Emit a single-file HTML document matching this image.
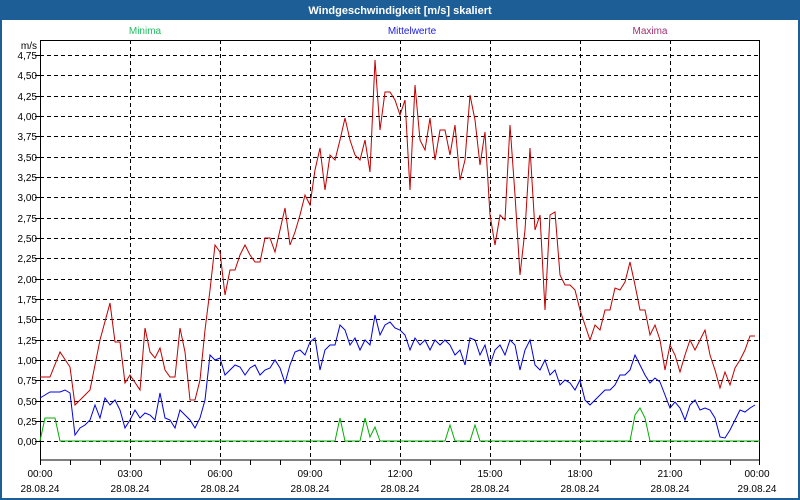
<!DOCTYPE html>
<html><head><meta charset="utf-8"><style>
html,body{margin:0;padding:0;background:#fff}
svg{display:block;font-family:"Liberation Sans",sans-serif}
</style></head><body>
<svg width="800" height="500" xmlns="http://www.w3.org/2000/svg">
<rect x="0" y="0" width="800" height="500" fill="#1e5e96"/>
<rect x="2" y="20" width="796" height="478" fill="#fff"/>
<text x="400" y="14" fill="#fff" font-size="11" font-weight="bold" text-anchor="middle">Windgeschwindigkeit [m/s] skaliert</text>
<text x="145" y="34" fill="#20c060" font-size="10" text-anchor="middle">Minima</text>
<text x="412" y="34" fill="#2020e0" font-size="10" text-anchor="middle">Mittelwerte</text>
<text x="650" y="34" fill="#a03070" font-size="10" text-anchor="middle">Maxima</text>
<text x="37" y="49" font-size="10" text-anchor="end">m/s</text>
<g stroke="#000" stroke-width="1" stroke-dasharray="4,3" fill="none" shape-rendering="crispEdges">
<path d="M40 441.5H760M40 421.5H760M40 401.5H760M40 380.5H760M40 360.5H760M40 340.5H760M40 319.5H760M40 299.5H760M40 279.5H760M40 258.5H760M40 238.5H760M40 218.5H760M40 197.5H760M40 177.5H760M40 157.5H760M40 136.5H760M40 116.5H760M40 96.5H760M40 75.5H760M40 55.5H760"/>
<path d="M130.5 40V460M220.5 40V460M310.5 40V460M400.5 40V460M490.5 40V460M580.5 40V460M670.5 40V460"/>
</g>
<g stroke="#000" shape-rendering="crispEdges">
<path d="M35 441.5H40M35 421.5H40M35 401.5H40M35 380.5H40M35 360.5H40M35 340.5H40M35 319.5H40M35 299.5H40M35 279.5H40M35 258.5H40M35 238.5H40M35 218.5H40M35 197.5H40M35 177.5H40M35 157.5H40M35 136.5H40M35 116.5H40M35 96.5H40M35 75.5H40M35 55.5H40"/>
<path d="M40.5 460V465M70.5 460V465M100.5 460V465M130.5 460V465M160.5 460V465M190.5 460V465M220.5 460V465M250.5 460V465M280.5 460V465M310.5 460V465M340.5 460V465M370.5 460V465M400.5 460V465M430.5 460V465M460.5 460V465M490.5 460V465M520.5 460V465M550.5 460V465M580.5 460V465M610.5 460V465M640.5 460V465M670.5 460V465M700.5 460V465M730.5 460V465M759.5 460V465"/>
</g>
<rect x="40.5" y="40.5" width="719" height="419.5" fill="none" stroke="#000"/>
<g font-size="10" text-anchor="end" fill="#000">
<text x="37" y="445">0,00</text><text x="37" y="425">0,25</text><text x="37" y="405">0,50</text><text x="37" y="384">0,75</text><text x="37" y="364">1,00</text><text x="37" y="344">1,25</text><text x="37" y="323">1,50</text><text x="37" y="303">1,75</text><text x="37" y="283">2,00</text><text x="37" y="262">2,25</text><text x="37" y="242">2,50</text><text x="37" y="222">2,75</text><text x="37" y="201">3,00</text><text x="37" y="181">3,25</text><text x="37" y="161">3,50</text><text x="37" y="140">3,75</text><text x="37" y="120">4,00</text><text x="37" y="100">4,25</text><text x="37" y="79">4,50</text><text x="37" y="59">4,75</text>
</g>
<g font-size="10" text-anchor="middle" fill="#000">
<text x="40" y="477">00:00</text><text x="40" y="492">28.08.24</text>
<text x="130" y="477">03:00</text><text x="130" y="492">28.08.24</text>
<text x="220" y="477">06:00</text><text x="220" y="492">28.08.24</text>
<text x="310" y="477">09:00</text><text x="310" y="492">28.08.24</text>
<text x="400" y="477">12:00</text><text x="400" y="492">28.08.24</text>
<text x="490" y="477">15:00</text><text x="490" y="492">28.08.24</text>
<text x="580" y="477">18:00</text><text x="580" y="492">28.08.24</text>
<text x="670" y="477">21:00</text><text x="670" y="492">28.08.24</text>
<text x="757" y="477">00:00</text><text x="757" y="492">29.08.24</text>
</g>
<polyline fill="none" stroke="#00b000" stroke-width="1" points="40,441 45,418 55,418 60,441 335,441 340,418 345,441 360,441 365,418 370,437 375,427 380,441 445,441 450,425 455,441 470,441 475,425 480,441 630,441 635,415 640,408 645,418 650,441 760,441"/>
<polyline fill="none" stroke="#0000e0" stroke-width="1" points="40,398 45,395 50,392 60,392 65,390 70,393 75,435 80,428 85,425 90,420 95,405 100,418 105,398 110,405 115,400 120,410 125,428 130,420 135,410 140,418 145,413 150,415 155,420 160,393 165,418 170,420 175,428 180,410 185,415 190,420 195,428 200,418 205,400 210,355 215,360 220,358 225,375 230,370 235,365 240,367 245,375 250,368 255,365 260,375 265,370 270,368 275,360 280,368 285,383 290,365 295,352 300,350 305,355 310,342 315,338 320,370 325,350 330,345 335,345 340,325 345,330 350,345 355,338 360,350 365,340 370,345 375,315 380,335 385,325 390,322 395,328 400,330 405,335 410,350 415,338 420,345 425,340 430,350 435,340 440,345 445,340 450,345 455,355 460,350 465,365 470,338 475,340 480,355 485,345 490,365 495,350 500,345 505,355 510,340 515,345 520,370 525,350 530,340 535,365 540,370 545,360 550,375 555,370 560,385 565,380 570,383 575,390 580,380 585,400 590,405 595,400 600,395 605,390 610,390 615,385 620,375 625,375 630,370 635,355 640,365 645,375 650,383 655,378 660,382 665,395 670,408 675,402 680,408 685,420 690,405 695,400 700,410 705,408 710,410 715,418 720,437 725,438 730,430 735,420 740,410 745,412 750,408 755,405"/>
<polyline fill="none" stroke="#c00000" stroke-width="1" points="40,377 50,377 60,352 70,367 75,405 80,400 90,390 100,340 110,303 115,342 120,342 125,383 130,375 140,390 145,328 150,352 155,358 160,348 165,370 170,377 175,377 180,328 185,352 190,400 195,400 200,380 205,330 210,290 215,245 220,252 225,295 230,270 235,270 240,255 245,245 250,255 255,262 260,262 265,238 270,238 275,252 280,230 285,208 290,245 295,232 300,215 305,195 310,205 315,170 320,148 325,190 330,155 335,160 340,140 345,118 350,140 355,155 360,160 365,140 370,172 375,60 380,130 385,92 390,92 395,100 400,115 405,100 410,190 415,85 420,140 425,150 430,118 435,160 440,130 445,130 450,155 455,125 460,180 465,160 470,95 475,120 480,165 485,132 490,215 495,245 500,215 505,220 510,125 515,195 520,275 525,230 530,148 535,230 540,215 545,310 550,215 555,212 560,275 565,285 570,285 575,290 580,310 585,325 590,340 595,325 600,330 605,310 610,310 615,288 620,290 625,282 630,262 635,285 640,310 645,310 650,335 655,325 660,340 665,370 670,345 675,355 680,372 685,355 690,340 695,350 700,340 705,330 710,355 715,370 720,388 725,372 730,385 735,368 740,360 745,350 750,336 755,336"/>
</svg>
</body></html>
